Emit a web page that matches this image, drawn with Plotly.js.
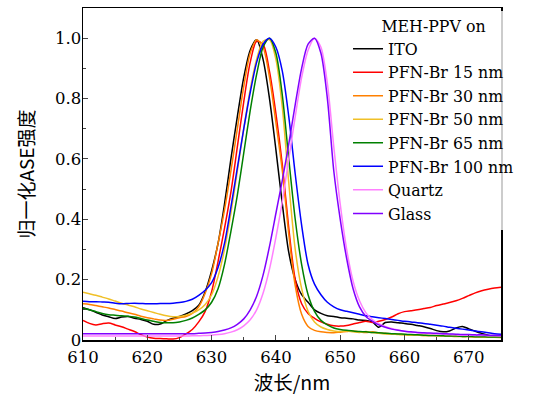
<!DOCTYPE html>
<html><head><meta charset="utf-8">
<script src="https://cdn.plot.ly/plotly-3.0.1.min.js"></script>
<style>body{margin:0;padding:0;background:#fff}#chart{width:544px;height:396px}</style>
</head><body><div id="chart"></div>
<script>
// wavelength grid (nm)
const wavelength = [610,611,612,613,614,615,616,617,618,619,620,621,622,623,624,625,626,627,628,629,630,631,632,633,634,635,636,637,638,639,640,641,642,643,644,645,646,647,648,649,650,651,652,653,654,655,656,657,658,659,660,661,662,663,664,665,666,667,668,669,670,671,672,673,674,675];

const seriesNames = ['ITO','PFN-Br 15 nm','PFN-Br 30 nm','PFN-Br 50 nm','PFN-Br 65 nm','PFN-Br 100 nm','Quartz','Glass'];
const seriesColors = ['#000000','#ff0000','#ff8000','#f0c027','#008000','#0000ff','#ff80ff','#8000ff'];

const ito = [0.107,0.100,0.092,0.083,0.077,0.071,0.076,0.078,0.072,0.068,0.062,0.052,0.053,0.064,0.072,0.078,0.086,0.097,0.115,0.16,0.23,0.32,0.45,0.60,0.74,0.87,0.96,0.995,0.93,0.80,0.63,0.45,0.29,0.20,0.15,0.125,0.100,0.088,0.080,0.078,0.074,0.072,0.070,0.066,0.065,0.060,0.042,0.058,0.060,0.057,0.055,0.052,0.048,0.044,0.038,0.031,0.027,0.030,0.040,0.045,0.037,0.029,0.022,0.016,0.012,0.010];
const pfn15 = [0.065,0.055,0.050,0.054,0.056,0.050,0.044,0.036,0.028,0.018,0.010,0.006,0.005,0.004,0.003,0.008,0.020,0.035,0.060,0.095,0.16,0.26,0.37,0.49,0.64,0.79,0.92,0.99,0.98,0.89,0.75,0.58,0.37,0.20,0.12,0.088,0.072,0.060,0.052,0.047,0.046,0.048,0.053,0.058,0.062,0.058,0.062,0.068,0.076,0.087,0.094,0.097,0.100,0.104,0.108,0.114,0.119,0.124,0.130,0.138,0.147,0.156,0.163,0.168,0.172,0.175];
const pfn30 = [0.120,0.118,0.114,0.110,0.106,0.101,0.096,0.090,0.085,0.079,0.074,0.070,0.066,0.065,0.069,0.074,0.078,0.088,0.110,0.155,0.22,0.32,0.43,0.56,0.70,0.84,0.95,0.995,0.97,0.87,0.72,0.56,0.35,0.18,0.085,0.045,0.032,0.027,0.025,0.024,0.026,0.028,0.030,0.027,0.025,0.027,0.024,0.022,0.020,0.019,0.018,0.017,0.016,0.015,0.015,0.014,0.014,0.013,0.012,0.012,0.011,0.010,0.010,0.009,0.009,0.008];
const pfn50 = [0.158,0.153,0.148,0.142,0.136,0.129,0.122,0.116,0.110,0.103,0.097,0.091,0.085,0.080,0.077,0.078,0.082,0.089,0.100,0.118,0.15,0.21,0.30,0.42,0.56,0.70,0.83,0.93,0.99,0.995,0.93,0.77,0.52,0.30,0.17,0.095,0.060,0.043,0.035,0.030,0.028,0.030,0.027,0.025,0.028,0.025,0.022,0.020,0.020,0.018,0.017,0.016,0.016,0.015,0.015,0.014,0.014,0.013,0.013,0.012,0.012,0.011,0.010,0.010,0.009,0.009];
const pfn65 = [0.105,0.100,0.094,0.088,0.084,0.082,0.080,0.079,0.076,0.071,0.066,0.062,0.058,0.057,0.057,0.060,0.065,0.073,0.085,0.100,0.125,0.17,0.25,0.36,0.48,0.62,0.76,0.88,0.97,1.0,0.95,0.81,0.60,0.40,0.25,0.15,0.095,0.065,0.050,0.040,0.035,0.032,0.030,0.028,0.027,0.025,0.024,0.022,0.021,0.020,0.019,0.018,0.017,0.016,0.015,0.015,0.014,0.013,0.013,0.012,0.012,0.011,0.011,0.010,0.010,0.010];
const pfn100 = [0.128,0.127,0.127,0.126,0.125,0.122,0.120,0.121,0.122,0.121,0.120,0.120,0.121,0.121,0.122,0.124,0.128,0.135,0.148,0.165,0.19,0.24,0.32,0.44,0.57,0.70,0.82,0.92,0.98,1.0,0.97,0.89,0.74,0.55,0.38,0.25,0.185,0.150,0.125,0.110,0.100,0.095,0.090,0.085,0.080,0.077,0.074,0.071,0.068,0.065,0.062,0.060,0.057,0.055,0.052,0.049,0.046,0.042,0.039,0.036,0.033,0.030,0.027,0.024,0.021,0.019];
const quartz = [0.013,0.013,0.013,0.013,0.013,0.013,0.013,0.013,0.013,0.013,0.013,0.013,0.013,0.013,0.013,0.013,0.013,0.014,0.014,0.015,0.016,0.018,0.021,0.026,0.034,0.047,0.067,0.100,0.155,0.235,0.34,0.46,0.60,0.74,0.87,0.96,1.0,0.97,0.85,0.64,0.45,0.30,0.195,0.130,0.090,0.068,0.054,0.045,0.038,0.033,0.029,0.026,0.024,0.022,0.021,0.020,0.019,0.018,0.017,0.016,0.016,0.015,0.015,0.014,0.014,0.013];
const glass = [0.021,0.021,0.021,0.021,0.021,0.021,0.021,0.021,0.021,0.021,0.021,0.021,0.021,0.021,0.021,0.021,0.021,0.021,0.022,0.023,0.025,0.028,0.033,0.040,0.052,0.070,0.100,0.145,0.215,0.31,0.42,0.53,0.65,0.78,0.90,0.98,1.0,0.95,0.80,0.56,0.40,0.27,0.17,0.110,0.078,0.062,0.050,0.042,0.036,0.032,0.029,0.027,0.025,0.024,0.023,0.022,0.021,0.020,0.019,0.018,0.018,0.017,0.017,0.016,0.016,0.015];

const xTickVals = [610,620,630,640,650,660,670];
const yTickVals = [0,0.2,0.4,0.6,0.8,1.0];
const yTickText = ['0','0.2','0.4','0.6','0.8','1.0'];

const allSeries = [ito,pfn15,pfn30,pfn50,pfn65,pfn100,quartz,glass];
const traces = allSeries.map((ys,i)=>({
  x: wavelength, y: ys, type:'scatter', mode:'lines', name: seriesNames[i],
  line:{color: seriesColors[i], width:1.5, shape:'spline', smoothing:0.8}
}));

const serif = 'DejaVu Serif, Liberation Serif, serif';
const cjk = 'Noto Sans CJK SC, DejaVu Serif, serif';
const layout = {
  width:544, height:396,
  margin:{l:83, r:43.3, t:7.5, b:55.5},
  paper_bgcolor:'#fff', plot_bgcolor:'#fff',
  font:{family: serif, size:15, color:'#000'},
  showlegend:true,
  legend:{
    x:0.634, y:0.99, xanchor:'left', yanchor:'top',
    bgcolor:'rgba(255,255,255,0.8)', borderwidth:0,
    font:{family: serif, size:15.8, color:'#000'},
    title:{text:'MEH-PPV on', side:'top center', font:{family: serif, size:15.8}},
    tracegroupgap:0
  },
  xaxis:{
    range:[610,675], tickvals: xTickVals, ticks:'inside', ticklen:5, tickwidth:1,
    showline:true, linecolor:'#000', linewidth:1.5, mirror:true,
    showgrid:false, zeroline:false, ticklabelstandoff:2,
    minor:{dtick:5, tick0:610, ticks:'inside', ticklen:3, showgrid:false},
    tickfont:{family: serif, size:16.5},
    title:{text:'波长/nm', font:{family: cjk, size:19.5}, standoff:4}
  },
  yaxis:{
    range:[0,1.1], tickvals: yTickVals, ticktext: yTickText, ticks:'inside', ticklen:5, tickwidth:1,
    showline:true, linecolor:'#000', linewidth:1.5, mirror:true,
    showgrid:false, zeroline:false, ticklabelstandoff:-3,
    minor:{dtick:0.1, tick0:0, ticks:'inside', ticklen:3, showgrid:false},
    tickfont:{family: serif, size:16.5},
    title:{text:'归一化ASE强度', font:{family: cjk, size:19}, standoff:15}
  }
};
Plotly.newPlot('chart', traces, layout, {displayModeBar:false, staticPlot:true});
</script></body></html>
